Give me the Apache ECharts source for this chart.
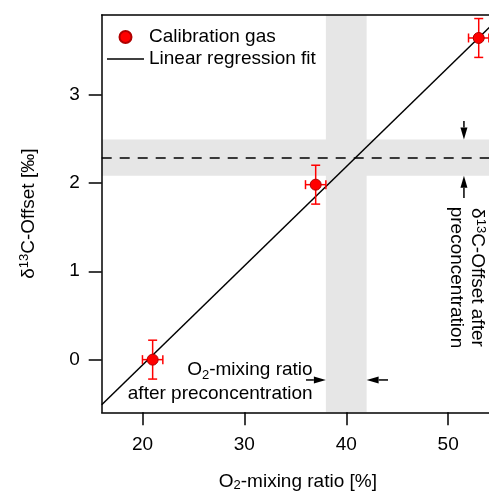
<!DOCTYPE html>
<html><head><meta charset="utf-8">
<script src="https://cdn.jsdelivr.net/npm/echarts@6/dist/echarts.min.js"></script>
<style>html,body{margin:0;padding:0;background:#fff}#c{width:489px;height:492px}</style>
</head><body><div id="c"></div>
<script>
// ---- data ----
const gasX = [21, 37, 53];
const gasY = [0.00, 1.98, 3.64];
const gasXErr = [1.0, 1.0, 1.0];
const gasYErr = [0.22, 0.22, 0.22];
const fitX = [16, 54.5];
const fitY = [-0.51, 3.81];
const offsetLevel = 2.28;
const offsetBand = [2.08, 2.49];
const o2Band = [38, 42];
const xTicks = [20, 30, 40, 50];
const yTicks = [0, 1, 2, 3];
const arrowsV = [[51.55, 2.70, 51.55, 2.49], [51.55, 1.83, 51.55, 2.08]];
const arrowsH = [[36.05, -0.23, 38, -0.23], [44.1, -0.23, 42, -0.23]];
const o2TextPos = [36.7, -0.25];
const offsetTextPos = [51.8, 0.93];

const FONT = 'Liberation Sans, Arial, Helvetica, sans-serif';
const FS = 19;

const chart = echarts.init(document.getElementById('c'), null, {renderer: 'canvas'});

function errorBarItem(params, api) {
  const x = api.value(0), y = api.value(1), ex = api.value(2), ey = api.value(3);
  const top = api.coord([x, y + ey]), bot = api.coord([x, y - ey]);
  const lft = api.coord([x - ex, y]), rgt = api.coord([x + ex, y]);
  const c = 4.5, st = {stroke: '#ff0000', lineWidth: 1.5};
  return {type: 'group', children: [
    {type: 'line', shape: {x1: top[0], y1: top[1], x2: bot[0], y2: bot[1]}, style: st},
    {type: 'line', shape: {x1: top[0] - c, y1: top[1], x2: top[0] + c, y2: top[1]}, style: st},
    {type: 'line', shape: {x1: bot[0] - c, y1: bot[1], x2: bot[0] + c, y2: bot[1]}, style: st},
    {type: 'line', shape: {x1: lft[0], y1: lft[1], x2: rgt[0], y2: rgt[1]}, style: st},
    {type: 'line', shape: {x1: lft[0], y1: lft[1] - c, x2: lft[0], y2: lft[1] + c}, style: st},
    {type: 'line', shape: {x1: rgt[0], y1: rgt[1] - c, x2: rgt[0], y2: rgt[1] + c}, style: st}
  ]};
}

function arrowItem(params, api) {
  const p1 = api.coord([api.value(0), api.value(1)]);
  const p2 = api.coord([api.value(2), api.value(3)]);
  const dx = p2[0] - p1[0], dy = p2[1] - p1[1];
  const L = Math.hypot(dx, dy), ux = dx / L, uy = dy / L;
  const hl = 12, hw = 3.5;
  const bx = p2[0] - ux * hl, by = p2[1] - uy * hl;
  return {type: 'group', children: [
    {type: 'line', shape: {x1: p1[0], y1: p1[1], x2: bx, y2: by}, style: {stroke: '#000', lineWidth: 1.5}},
    {type: 'polygon', shape: {points: [[p2[0], p2[1]], [bx - uy * hw, by + ux * hw], [bx + uy * hw, by - ux * hw]]},
      style: {fill: '#000'}}
  ]};
}

const gasData = gasX.map((x, i) => [x, gasY[i]]);
const errData = gasX.map((x, i) => [x, gasY[i], gasXErr[i], gasYErr[i]]);
const fitData = fitX.map((x, i) => [x, fitY[i]]);

const axisCommon = {
  axisLine: {show: true, onZero: false, lineStyle: {color: '#000', width: 1.5}},
  axisTick: {show: true, inside: false, length: 13, lineStyle: {color: '#000', width: 1.5}},
  axisLabel: {color: '#000', fontFamily: FONT, fontSize: FS},
  splitLine: {show: false},
  z: 10
};

chart.setOption({
  animation: false,
  backgroundColor: '#fff',
  textStyle: {fontFamily: FONT},
  grid: {left: 101.7, right: -5, top: 15, bottom: 79.7, show: false, outerBoundsMode: 'none', containLabel: false},
  legend: {
    left: 102, top: 22, orient: 'vertical', itemGap: 2,
    itemWidth: 37, itemHeight: 12,
    textStyle: {fontFamily: FONT, fontSize: FS, color: '#000', lineHeight: 20},
    data: [
      {name: 'Calibration gas', icon: 'circle'},
      {name: 'Linear regression fit', icon: 'path://M0,0H40V1.5H0Z', itemStyle: {color: '#000'}}
    ]
  },
  xAxis: [Object.assign({}, axisCommon, {
    type: 'value', position: 'bottom', min: 16, max: 54.5,
    axisTick: Object.assign({}, axisCommon.axisTick, {customValues: xTicks}),
    axisLabel: Object.assign({}, axisCommon.axisLabel, {customValues: xTicks, margin: 23}),
    name: '{a|O}{s|2}{a|-mixing ratio [%]}', nameLocation: 'middle', nameGap: 58,
    nameTextStyle: {rich: {
      a: {fontFamily: FONT, fontSize: FS, color: '#000', lineHeight: 22, verticalAlign: 'middle'},
      s: {fontFamily: FONT, fontSize: 13, color: '#000', lineHeight: 14, verticalAlign: 'bottom'}
    }}
  }), {
    type: 'value', position: 'top', min: 16, max: 54.5, z: 10,
    axisLine: {show: true, onZero: false, lineStyle: {color: '#000', width: 1.5}},
    axisTick: {show: false}, axisLabel: {show: false}, splitLine: {show: false}
  }],
  yAxis: Object.assign({}, axisCommon, {
    type: 'value', min: -0.596, max: 3.9,
    axisTick: Object.assign({}, axisCommon.axisTick, {customValues: yTicks}),
    axisLabel: Object.assign({}, axisCommon.axisLabel, {customValues: yTicks, margin: 22}),
    name: '{a|δ}{p|13}{a|C-Offset [‰]}', nameLocation: 'middle', nameGap: 62, nameRotate: 90,
    nameTextStyle: {rich: {
      a: {fontFamily: FONT, fontSize: FS, color: '#000', lineHeight: 22, verticalAlign: 'middle'},
      p: {fontFamily: FONT, fontSize: 13, color: '#000', lineHeight: 12, verticalAlign: 'top'}
    }}
  }),
  series: [
    {
      type: 'line', name: 'bands', data: [], z: 1, silent: true,
      markArea: {silent: true, itemStyle: {color: '#e6e6e6'}, data: [
        [{yAxis: offsetBand[0]}, {yAxis: offsetBand[1]}],
        [{xAxis: o2Band[0]}, {xAxis: o2Band[1]}]
      ]},
      markLine: {silent: true, symbol: ['none', 'none'], label: {show: false},
        lineStyle: {color: '#000', type: [10, 8], width: 1.5},
        data: [{yAxis: offsetLevel}]}
    },
    {
      type: 'line', name: 'Linear regression fit', data: fitData, symbol: 'none', z: 3,
      color: '#000', lineStyle: {color: '#000', width: 1.5}, clip: true
    },
    {type: 'custom', name: 'arrows', data: arrowsV.concat(arrowsH), renderItem: arrowItem, z: 3, silent: true},
    {type: 'custom', name: 'errors', data: errData, renderItem: errorBarItem, z: 4, silent: true},
    {
      type: 'scatter', name: 'Calibration gas', data: gasData, symbol: 'circle', symbolSize: 11, z: 5,
      itemStyle: {color: '#ff0000', borderColor: '#b00000', borderWidth: 1, opacity: 1}
    }
  ]
});

const pO2 = chart.convertToPixel({gridIndex: 0}, o2TextPos);
const pOff = chart.convertToPixel({gridIndex: 0}, offsetTextPos);
chart.setOption({graphic: [
  {type: 'text', x: pO2[0], y: pO2[1], z: 20,
    style: {text: '{a|O}{s|2}{a|-mixing ratio}\n{a|after preconcentration}', align: 'right', verticalAlign: 'middle',
      rich: {
        a: {fontFamily: FONT, fontSize: FS, fill: '#000', lineHeight: 24, verticalAlign: 'middle', align: 'right'},
        s: {fontFamily: FONT, fontSize: 13, fill: '#000', lineHeight: 14, verticalAlign: 'bottom', align: 'right'}
      }}},
  {type: 'text', x: pOff[0], y: pOff[1], rotation: -Math.PI / 2, z: 20,
    style: {text: '{a|δ}{p|13}{a|C-Offset after}\n{a|preconcentration}', align: 'center', verticalAlign: 'middle',
      rich: {
        a: {fontFamily: FONT, fontSize: FS, fill: '#000', lineHeight: 21, verticalAlign: 'middle'},
        p: {fontFamily: FONT, fontSize: 13, fill: '#000', lineHeight: 10, verticalAlign: 'top'}
      }}}
]});
</script>
</body></html>
